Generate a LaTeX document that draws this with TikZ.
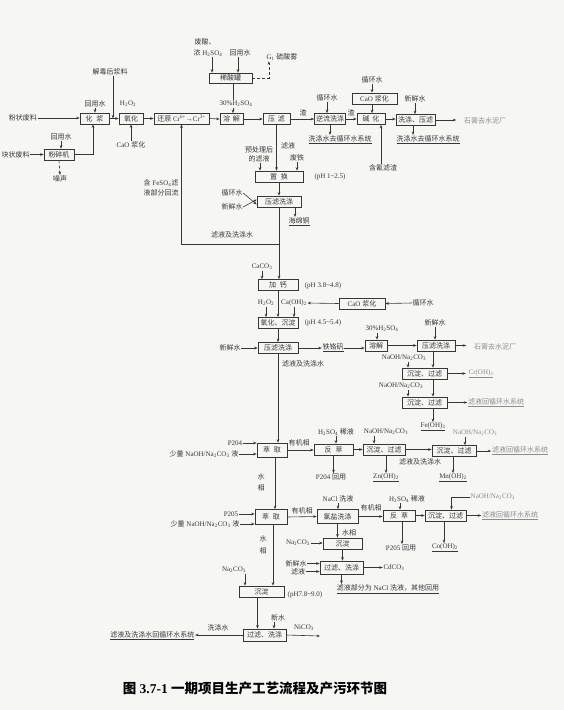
\documentclass[tikz,border=0pt]{standalone}
\usepackage{fontspec}
\setmainfont{Liberation Serif}
\newfontfamily\cjk{Noto Sans CJK SC}
\newfontfamily\lat{Liberation Serif}
\usetikzlibrary{arrows.meta}
\XeTeXinterchartokenstate=1
\newXeTeXintercharclass\CJKcls
\newcount\mycnt
\mycnt="3000 \loop\XeTeXcharclass\mycnt=\CJKcls \ifnum\mycnt<"303F \advance\mycnt by 1 \repeat
\mycnt="4E00 \loop\XeTeXcharclass\mycnt=\CJKcls \ifnum\mycnt<"9FFF \advance\mycnt by 1 \repeat
\mycnt="FF00 \loop\XeTeXcharclass\mycnt=\CJKcls \ifnum\mycnt<"FFEF \advance\mycnt by 1 \repeat
\XeTeXinterchartoks 0 \CJKcls = {\cjk}
\XeTeXinterchartoks 4095 \CJKcls = {\cjk}
\XeTeXinterchartoks \CJKcls 0 = {\lat}
\XeTeXinterchartoks \CJKcls 4095 = {\lat}
\definecolor{bg}{RGB}{246,246,245}
\definecolor{ink}{RGB}{55,55,55}
\definecolor{faint}{RGB}{140,140,140}
\newcommand\lowsc[1]{\textsubscript{#1}}
\newcommand\highsc[1]{\textsuperscript{#1}}
\newcommand\smallfz{\fontsize{7}{8.5}\selectfont}
\tikzset{
  bx/.style={draw=ink, line width=0.6pt, inner sep=0pt, minimum height=11pt, text=ink, font=\smallfz},
  lb/.style={inner sep=0.5pt, text=ink, font=\smallfz},
  fl/.style={lb, text=faint},
  ln/.style={draw=ink, line width=0.6pt},
  arr/.style={ln, -{Stealth[length=3.5pt,width=2.6pt]}},
}
\begin{document}
\begin{tikzpicture}[x=1pt,y=-1pt]
\fill[bg] (0,0) rectangle (564,710);
\useasboundingbox (0,0) rectangle (564,710);
% ---------- top row ----------
\node[lb] (fz) at (23,118) {粉状废料};
\node[lb,anchor=west] (kz) at (1,154.5) {块状废料};
\node[bx,minimum width=29pt] (hj) at (94.5,118.5) {化\hspace{4pt}浆};
\node[lb] (hys1) at (95,104) {回用水};
\node[bx,minimum width=30pt] (fs) at (59,154.5) {粉碎机};
\node[lb] (hys2) at (61,137) {回用水};
\node[lb] (zs) at (60,179) {噪声};
\node[lb] (jd) at (110,72) {解毒后浆料};
\node[bx,minimum width=24pt] (yh) at (131,118.5) {氧化};
\node[lb] (h2o2a) at (128,104) {H\lowsc{2}O\lowsc{2}};
\node[lb] (caoa) at (131,145) {CaO 浆化};
\node[bx,minimum width=55pt] (hy) at (181.5,118.5) {还原 Cr\highsc{6+}→Cr\highsc{3+}};
\node[lb,anchor=west,align=left,font=\fontsize{7}{10}\selectfont] (feso) at (143,188) {含 FeSO\lowsc{4}滤\\液部分回流};
\node[lb] (fs1) at (205,42) {废酸、};
\node[lb] (fs2) at (208,53) {浓 H\lowsc{2}SO\lowsc{4}};
\node[lb] (hys3) at (240,53) {回用水};
\node[lb] (g1) at (282,57) {G\lowsc{1} 硫酸雾};
\node[bx,minimum width=43pt,minimum height=10pt] (xsg) at (230.5,78) {稀酸罐};
\node[lb,fill=bg] (h2so4a) at (236,104) {30\%H\lowsc{2}SO\lowsc{4}};
\node[bx,minimum width=23pt] (rj) at (231.5,119) {溶\hspace{3pt}解};
\node[bx,minimum width=27pt] (lv) at (276.5,119) {压\hspace{3pt}滤};
\node[lb] (z1) at (303,113) {渣};
\node[lb] (xh1) at (327,98) {循环水};
\node[bx,minimum width=31pt] (nl) at (330,119) {逆流洗涤};
\node[lb] (z2) at (351,113) {渣};
\node[lb] (xh2) at (372,80) {循环水};
\node[bx,minimum width=45pt] (cao1) at (374.5,98.5) {CaO 浆化};
\node[bx,minimum width=28pt] (jh) at (371,119) {碱\hspace{3pt}化};
\node[lb] (xs1) at (415,99) {新鲜水};
\node[bx,minimum width=39pt] (xy) at (415.5,120) {洗涤、压滤};
\node[fl] (sg1) at (485,121) {石膏去水泥厂};
\node[lb] (xds1) at (340,140) {\underline{洗涤水去循环水系统}};
\node[lb] (xds2) at (428,140) {\underline{洗涤水去循环水系统}};
\node[lb] (hq) at (383,168) {含氰滤渣};
% ---------- copper line ----------
\node[lb] (lvy) at (288,146) {滤液};
\node[lb,align=center,font=\fontsize{7}{9}\selectfont] (ycl) at (259,154.5) {预处理后\\的滤液};
\node[lb] (ft) at (297,158) {废铁};
\node[bx,minimum width=48pt] (zh) at (279,176.5) {置\hspace{4pt}换};
\node[lb] (ph1) at (330,177) {(pH 1\textasciitilde2.5)};
\node[lb] (xh4) at (232,193) {循环水};
\node[lb] (xs2) at (232,207) {新鲜水};
\node[bx,minimum width=44pt] (yl1) at (279,201.5) {压滤洗涤};
\node[lb] (hmt) at (299,222) {\underline{海绵铜}};
\node[lb] (lj1) at (232,235) {滤液及洗涤水};
\coordinate (fb) at (279,244);
\node[lb] (caco3) at (262,267) {CaCO\lowsc{3}};
\node[bx,minimum width=40pt] (jg) at (278,285) {加\hspace{4pt}钙};
\node[lb] (ph2) at (323,286) {(pH 3.8\textasciitilde4.8)};
\node[lb] (h2o2b) at (266,303) {H\lowsc{2}O\lowsc{2}};
\node[lb] (caoh) at (294,303) {Ca(OH)\lowsc{2}};
\node[bx,minimum width=46pt] (cao2) at (362,303.5) {CaO 浆化};
\node[lb] (xh5) at (423,303) {循环水};
\node[bx,minimum width=40pt] (yc) at (278,323) {氧化、沉淀};
\node[lb] (ph3) at (323,323) {(pH 4.5\textasciitilde5.4)};
\node[lb] (xs3) at (230,348) {新鲜水};
\node[bx,minimum width=40pt] (yl2) at (278,348) {压滤洗涤};
\node[lb] (tgf) at (333,348) {\underline{铁铬矾}};
\node[lb] (lj2) at (303,364) {滤液及洗涤水};
\node[lb] (h2so4b) at (382,329) {30\%H\lowsc{2}SO\lowsc{4}};
\node[bx,minimum width=22pt] (rj2) at (376,345.5) {溶解};
\node[lb] (xs4) at (435,323) {新鲜水};
\node[bx,minimum width=38pt] (yl3) at (436,345.5) {压滤洗涤};
\node[fl] (sg2) at (495,347) {石膏去水泥厂};
\node[lb] (na1) at (404,358) {NaOH/Na\lowsc{2}CO\lowsc{3}};
\node[bx,minimum width=45pt] (cd1) at (424.5,373.5) {沉淀、过滤};
\node[fl] (croh) at (481,374) {\underline{Cr(OH)\lowsc{3}}};
\node[lb] (na2) at (401,386) {NaOH/Na\lowsc{2}CO\lowsc{3}};
\node[bx,minimum width=45pt] (cd2) at (424.5,402.5) {沉淀、过滤};
\node[fl] (rec1) at (496,403) {\underline{滤液回循环水系统}};
\node[lb] (feoh) at (433,427) {\underline{Fe(OH)\lowsc{3}}};
% ---------- P204 extraction ----------
\node[lb] (p204) at (235,443) {P204};
\node[lb] (sl1) at (204,454) {少量 NaOH/Na\lowsc{2}CO\lowsc{3} 液};
\node[bx,minimum width=30pt,minimum height=14pt] (kq1) at (272,450) {萃\hspace{4pt}取};
\node[lb] (yj1) at (299,443) {有机相};
\node[lb] (h2so4c) at (336,432) {H\lowsc{2}SO\lowsc{4} 稀液};
\node[bx,minimum width=39pt] (fc1) at (333.5,449.5) {反\hspace{4pt}萃};
\node[lb] (p204h) at (331,477) {P204 回用};
\node[lb] (na3) at (386,432) {NaOH/Na\lowsc{2}CO\lowsc{3}};
\node[bx,minimum width=42pt] (cd3) at (384,449.5) {沉淀、过滤};
\node[lb] (znoh) at (386,478) {\underline{Zn(OH)\lowsc{2}}};
\node[lb] (lj3) at (420,462) {滤液及洗涤水};
\node[fl] (na4) at (475,433) {NaOH/Na\lowsc{2}CO\lowsc{3}};
\node[bx,minimum width=44pt] (cd4) at (454,451) {沉淀、过滤};
\node[fl] (rec2) at (520,451) {\underline{滤液回循环水系统}};
\node[lb] (mnoh) at (453,478) {\underline{Mn(OH)\lowsc{2}}};
\node[lb] (s1) at (261,477) {水};
\node[lb] (x1) at (261,488) {相};
% ---------- P205 extraction ----------
\node[lb] (p205) at (231,514) {P205};
\node[lb] (sl2) at (205,524) {少量 NaOH/Na\lowsc{2}CO\lowsc{3} 液};
\node[bx,minimum width=32pt,minimum height=15pt] (kq2) at (271,517) {萃\hspace{4pt}取};
\node[lb] (yj2) at (302,511) {有机相};
\node[lb] (nacl) at (338,499) {NaCl 洗液};
\node[bx,minimum width=41pt,minimum height=14pt] (lyx) at (337.5,516.5) {氯盐洗涤};
\node[lb] (yj3) at (371,508) {有机相};
\node[lb] (h2so4d) at (407,499) {H\lowsc{2}SO\lowsc{4} 稀液};
\node[bx,minimum width=32pt] (fc2) at (399,515.5) {反\hspace{4pt}萃};
\node[bx,minimum width=41pt] (cd5) at (445.5,515.5) {沉淀、过滤};
\node[fl,anchor=west] (na5) at (470,497) {NaOH/Na\lowsc{2}CO\lowsc{3}};
\node[fl] (rec3) at (510,516) {\underline{滤液回循环水系统}};
\node[lb] (p205h) at (401,548) {P205 回用};
\node[lb] (cooh) at (445,548) {\underline{Co(OH)\lowsc{2}}};
\node[lb] (sx2) at (349,533) {水相};
\node[lb] (na2co3a) at (298,543) {Na\lowsc{2}CO\lowsc{3}};
\node[bx,minimum width=39pt] (cdd) at (342.5,543.5) {沉淀};
\node[lb] (xs5) at (296,563.5) {新鲜水};
\node[lb] (lv2) at (298,571.5) {滤液};
\node[bx,minimum width=43pt,minimum height=13pt] (glx) at (341.5,567.5) {过滤、洗涤};
\node[lb] (cdco3) at (394,568) {CdCO\lowsc{3}};
\node[lb] (bf) at (388,589) {\underline{滤液部分为 NaCl 洗液，其他回用}};
\node[lb] (s2) at (263,539) {水};
\node[lb] (x2) at (263,551) {相};
\node[lb] (na2co3b) at (234,570) {Na\lowsc{2}CO\lowsc{3}};
\node[bx,minimum width=45pt] (cdm) at (261.5,591.5) {沉淀};
\node[lb] (ph4) at (305,595) {(pH7.8\textasciitilde9.0)};
\node[lb] (xw) at (278,618) {新水};
\node[bx,minimum width=43pt,minimum height=12pt] (glm) at (264.5,635) {过滤、洗涤};
\node[lb] (xdw) at (218,628) {洗涤水};
\node[lb,anchor=east] (rec4) at (195,636) {\underline{滤液及洗涤水回循环水系统}};
\node[lb] (nico3) at (304,628) {NiCO\lowsc{3}};
\coordinate (nicoe) at (320,636);
\node[text=black,font=\fontsize{13.5}{15}\selectfont\bfseries] (cap) at (255,688) {图 3.7-1 一期项目生产工艺流程及产污环节图};
% ---------- connectors ----------
\draw[arr] (fz.east) -- (fz.east -| hj.west);
\draw[arr] (kz.east) -- (kz.east -| fs.west);
\draw[arr] (hys1.south) -- (hys1.south |- hj.north);
\draw[arr] (hys2.south) -- (hys2.south |- fs.north);
\draw[arr] (fs.east) -| ([xshift=-1.5pt]hj.south);
\draw[arr,densely dashed] (fs.south) -- (zs.north);
\draw[arr] (hj.east) -- (yh.west);
\draw[arr] ([xshift=3pt]jd.south) -- ([xshift=3pt]jd.south |- hj.east);
\draw[arr] (caoa.north) -- (caoa.north |- yh.south);
\draw[arr] (yh.east) -- (hy.west);
\draw[arr] (hy.east) -- (rj.west);
\draw[arr] ([xshift=4pt]fs2.south) -- ([xshift=4pt]fs2.south |- xsg.north);
\draw[arr] ([xshift=-2pt]hys3.south) -- ([xshift=-2pt]hys3.south |- xsg.north);
\draw[arr,densely dashed] (xsg.east) -| ([xshift=3pt]g1.south west);
\draw[ln] ([xshift=2.5pt]xsg.south) -- ([xshift=2.5pt]xsg.south |- h2so4a.north);
\draw[arr] ([xshift=2.5pt]xsg.south |- h2so4a.south) -- ([xshift=2.5pt]xsg.south |- rj.north);
\draw[arr] (rj.east) -- (lv.west);
\draw[arr] (lv.east) -- (nl.west);
\draw[arr] (xh1.south) -- (xh1.south |- nl.north);
\draw[arr] (nl.south) -- (nl.south |- xds1.north);
\draw[arr] (nl.east) -- (jh.west);
\draw[arr] (xh2.south) -- (xh2.south |- cao1.north);
\draw[arr] (xh2.south |- cao1.south) -- (xh2.south |- jh.north);
\draw[arr] (jh.east) -- (jh.east -| xy.west);
\draw[arr] (xs1.south) -- (xs1.south |- xy.north);
\draw[arr,shorten >=7pt] (xy.east) -- (xy.east -| sg1.west);
\draw[arr] ([xshift=-2.5pt]xy.south) -- ([xshift=-2.5pt]xy.south |- xds2.north);
\draw[arr] ([xshift=-2pt]hq.north) -- ([xshift=-2pt]hq.north |- jh.south);
\draw[arr] (lv.south) -- (lv.south |- zh.north);
\draw[arr] ([xshift=1pt]ycl.south) -- ([xshift=1pt]ycl.south |- zh.north);
\draw[arr] (ft.south) -- (ft.south |- zh.north);
\draw[arr] (zh.south) -- (yl1.north);
\draw[arr] (xh4.east) -- ([yshift=-3pt]yl1.west);
\draw[arr] (xs2.east) -- ([yshift=2pt]yl1.west);
\draw[arr] ([xshift=16pt]yl1.south) -- ([xshift=16pt]yl1.south |- hmt.north);
\draw[arr] (yl1.south) -- (yl1.south |- jg.north);
\draw[arr] (fb) -| (hy.south);
\draw[arr] (caco3.south) -- (caco3.south |- jg.north);
\draw[arr] (jg.south) -- (yc.north);
\draw[arr] (h2o2b.south) -- (h2o2b.south |- yc.north);
\draw[arr] (caoh.south) -- (caoh.south |- yc.north);
\draw[arr] (cao2.west) -- (caoh.east);
\draw[arr] (xh5.west) -- (cao2.east);
\draw[arr] (yc.south) -- (yl2.north);
\draw[arr] (xs3.east) -- (yl2.west);
\draw[arr] (yl2.east) -- (tgf.west);
\draw[arr] (tgf.east) -- (tgf.east -| rj2.west);
\draw[arr] ([xshift=-5pt]h2so4b.south) -- ([xshift=-5pt]h2so4b.south |- rj2.north);
\draw[arr] (rj2.east) -- (yl3.west);
\draw[arr] (xs4.south) -- (xs4.south |- yl3.north);
\draw[arr,shorten >=7pt] (yl3.east) -- (yl3.east -| sg2.west);
\draw[arr] ([xshift=-3pt]yl3.south) -- ([xshift=-3pt]yl3.south |- cd1.north);
\draw[arr] ([xshift=4pt]na1.south) -- ([xshift=4pt]na1.south |- cd1.north);
\draw[arr,shorten >=2pt] (cd1.east) -- (cd1.east -| croh.west);
\draw[arr] ([xshift=-3pt]yl3.south |- cd1.south) -- ([xshift=-3pt]yl3.south |- cd2.north);
\draw[arr] ([xshift=7pt]na2.south) -- ([xshift=7pt]na2.south |- cd2.north);
\draw[arr] (cd2.east) -- (cd2.east -| rec1.west);
\draw[arr] (feoh.north |- cd2.south) -- (feoh.north);
% extraction P204
\draw[arr] (yl2.south) -- (yl2.south |- kq1.north);
\draw[arr] (p204.east) -- (p204.east -| kq1.west);
\draw[arr] (sl1.east) -- (sl1.east -| kq1.west);
\draw[arr] (kq1.east) -- (kq1.east -| fc1.west);
\draw[arr] (h2so4c.south) -- (h2so4c.south |- fc1.north);
\draw[arr] (fc1.south) -- (fc1.south |- p204h.north);
\draw[arr] (fc1.east) -- (fc1.east -| cd3.west);
\draw[arr] ([xshift=-12pt]na3.south) -- ([xshift=-12pt]na3.south |- cd3.north);
\draw[arr] (znoh.north |- cd3.south) -- (znoh.north);
\draw[arr] (cd3.east) -- (cd3.east -| cd4.west);
\draw[arr] ([xshift=-10pt]na4.south) -- ([xshift=-10pt]na4.south |- cd4.north);
\draw[arr] (cd4.east) -- (cd4.east -| rec2.west);
\draw[arr] (mnoh.north |- cd4.south) -- (mnoh.north);
\draw[arr] ([xshift=3pt]kq1.south) -- ([xshift=3pt]kq1.south |- kq2.north);
% extraction P205
\draw[arr] (p205.east) -- (p205.east -| kq2.west);
\draw[arr] (sl2.east) -- (sl2.east -| kq2.west);
\draw[arr] (kq2.east) -- (lyx.west);
\draw[arr] (nacl.south) -- (nacl.south |- lyx.north);
\draw[arr] (lyx.east) -- (lyx.east -| fc2.west);
\draw[arr] ([xshift=-7pt]h2so4d.south) -- ([xshift=-7pt]h2so4d.south |- fc2.north);
\draw[arr] (fc2.east) -- (fc2.east -| cd5.west);
\draw[arr] (na5.west) -| ([xshift=6pt]cd5.north);
\draw[arr] (cd5.east) -- (cd5.east -| rec3.west);
\draw[arr] ([xshift=3pt]fc2.south) -- ([xshift=3pt]fc2.south |- p205h.north);
\draw[arr] ([xshift=-1.5pt]cd5.south) -- ([xshift=-1.5pt]cd5.south |- cooh.north);
\draw[arr] (lyx.south) -- (lyx.south |- cdd.north);
\draw[arr] (na2co3a.east) -- (na2co3a.east -| cdd.west);
\draw[arr] (cdd.south) -- (cdd.south |- glx.north);
\draw[arr] (xs5.east) -- (xs5.east -| glx.west);
\draw[arr] (lv2.east) -- (lv2.east -| glx.west);
\draw[arr] (glx.east) -- (glx.east -| cdco3.west);
\draw[arr] (glx.south) -- (glx.south |- bf.north);
\draw[arr] ([xshift=2pt]kq2.south) -- ([xshift=2pt]kq2.south |- cdm.north);
\draw[arr] ([xshift=11pt]na2co3b.south) -- ([xshift=11pt]na2co3b.south |- cdm.north);
\draw[arr] ([xshift=-4pt]cdm.south) -- ([xshift=-4pt]cdm.south |- glm.north);
\draw[arr] ([xshift=-4pt]xw.south) -- ([xshift=-4pt]xw.south |- glm.north);
\draw[arr] (glm.west) -- (glm.west -| rec4.east);
\draw[arr] (glm.east) -- (nicoe);
\end{tikzpicture}
\end{document}
